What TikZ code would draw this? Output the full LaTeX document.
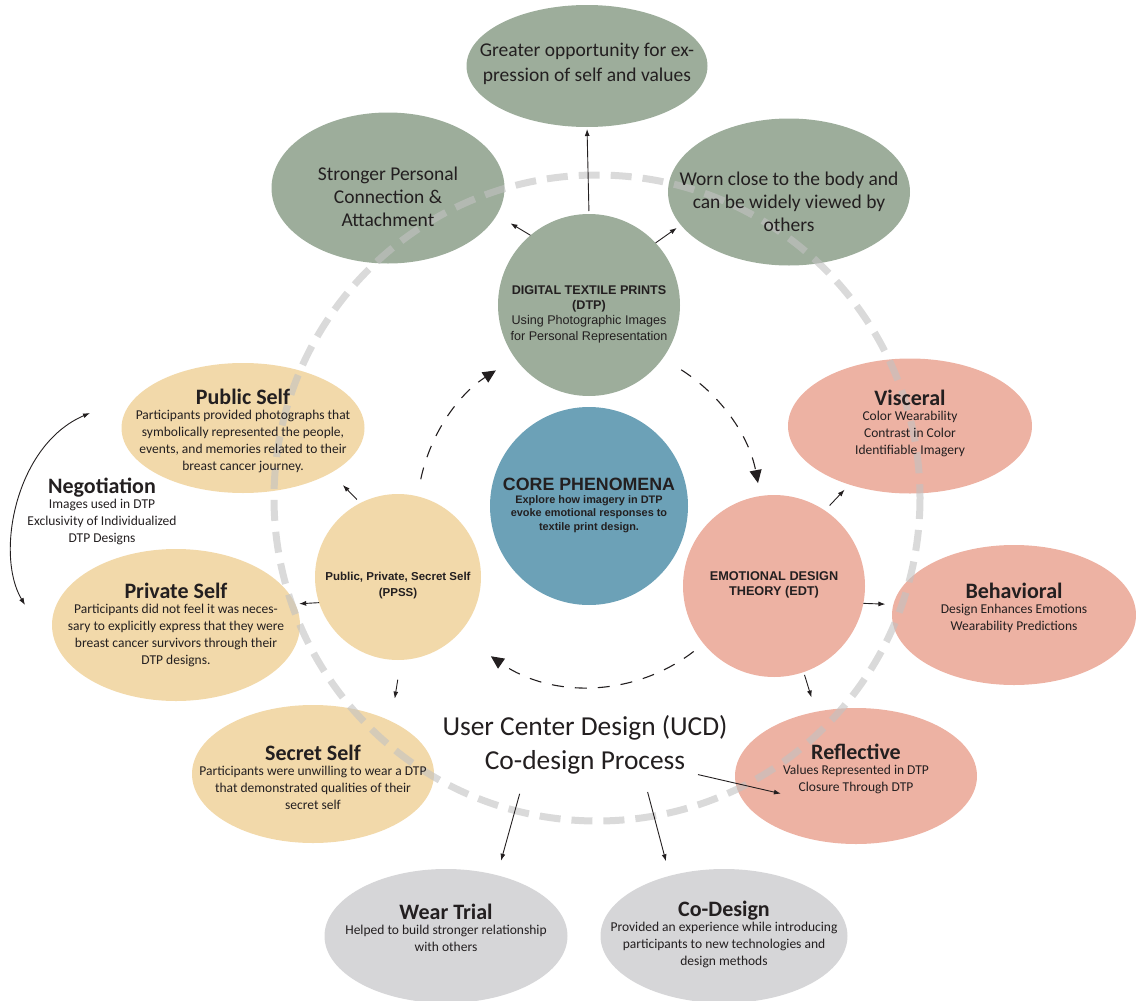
\documentclass[tikz,border=0pt]{standalone}
\usepackage{fontspec}
\setmainfont{Carlito}
\newfontfamily\arialfont{Liberation Sans}
\usetikzlibrary{shapes.geometric,arrows.meta}

\definecolor{sage}{HTML}{9DAD9B}
\definecolor{coreblue}{HTML}{6CA1B7}
\definecolor{sand}{HTML}{F2D9AA}
\definecolor{salmon}{HTML}{EDB2A3}
\definecolor{stone}{HTML}{D6D6D8}
\definecolor{ink}{HTML}{231F20}
\definecolor{ringgray}{HTML}{C2C2C2}

\tikzset{
    bubble/.style={ellipse, inner sep=0pt, outer sep=0pt},
    hub/.style={circle, inner sep=0pt, outer sep=0pt},
    txt/.style={align=center, text=ink, inner sep=0pt, font=\fontsize{13.5}{17}\selectfont},
    hubtxt/.style={align=center, text=ink, inner sep=0pt, font=\arialfont\fontsize{12.6}{15.3}\selectfont},
    arr/.style={->, draw=ink, line width=0.9pt},
    cycleflow/.style={-{Triangle[length=13pt,width=12pt]}, draw=ink, line width=1.1pt, dash pattern=on 12pt off 11pt},
    ring/.style={draw=ringgray, line width=7pt, dash pattern=on 21pt off 11pt, draw opacity=0.6},
}
\newcommand{\ttl}[1]{{\fontsize{22}{22}\selectfont\bfseries #1}}

\begin{document}
\begin{tikzpicture}[x=1pt, y=-1pt, >={Latex[length=7pt,width=5pt]}]
    \useasboundingbox (0,0) rectangle (1136,1001);

    % outcomes of the prints (top)
    \node[bubble, fill=sage, minimum width=241pt, minimum height=122pt] (greater) at (587,66) {};
    \node[bubble, fill=sage, minimum width=233pt, minimum height=151pt] (stronger) at (388,188) {};
    \node[bubble, fill=sage, minimum width=242pt, minimum height=147pt] (worn) at (789,192) {};

    % emotional design levels (right)
    \node[bubble, fill=salmon, minimum width=244pt, minimum height=135pt] (visceral) at (910,426) {};
    \node[bubble, fill=salmon, minimum width=244pt, minimum height=140pt] (behavioral) at (1014,615) {};
    \node[bubble, fill=salmon, minimum width=242pt, minimum height=136pt] (reflective) at (856,776) {};

    % public / private / secret self (left)
    \node[bubble, fill=sand, minimum width=243pt, minimum height=130pt] (public) at (243,428) {};
    \node[bubble, fill=sand, minimum width=248pt, minimum height=152pt] (private) at (176,625) {};
    \node[bubble, fill=sand, minimum width=242pt, minimum height=138pt] (secret) at (313,774) {};

    % co-design process (bottom)
    \node[bubble, fill=stone, minimum width=243pt, minimum height=134pt] (wear) at (446,936) {};
    \node[bubble, fill=stone, minimum width=247pt, minimum height=134pt] (codesign) at (724,936) {};

    % hubs
    \node[hub, fill=sage, minimum size=182pt] (dtp) at (589,305) {};
    \node[hub, fill=coreblue, minimum size=198pt] (core) at (589,506) {};
    \node[hub, fill=sand, minimum size=166pt] (ppss) at (398,577) {};
    \node[hub, fill=salmon, minimum size=182pt] (edt) at (774,586) {};

    % big dashed ring, over the fills but under the texts
    \draw[ring] (597,498) circle [radius=323];

    % texts
    \node[txt, font=\fontsize{19.5}{25}\selectfont] (greater-txt) at (587,64)
        {Greater opportunity for ex-\\pression of self and values};
    \node[txt, font=\fontsize{19.5}{23}\selectfont] (stronger-txt) at (388,197)
        {Stronger Personal\\Connection \&\\Attachment};
    \node[txt, font=\fontsize{19.5}{23}\selectfont] (worn-txt) at (789,202)
        {Worn close to the body and\\can be widely viewed by\\others};

    \node[txt] (visceral-txt) at (910,423)
        {\ttl{Visceral}\\[-2pt] Color Wearability\\Contrast in Color\\Identifiable Imagery};
    \node[txt] (behavioral-txt) at (1014,608)
        {\ttl{Behavioral}\\[-2pt] Design Enhances Emotions\\Wearability Predictions};
    \node[txt] (reflective-txt) at (856,769)
        {\ttl{Reflective}\\[-2pt] Values Represented in DTP\\Closure Through DTP};

    \node[txt] (public-txt) at (243,431)
        {\ttl{Public Self}\\[-2pt] Participants provided photographs that\\symbolically represented the people,\\events, and memories related to their\\breast cancer journey.};
    \node[txt] (private-txt) at (176,625)
        {\ttl{Private Self}\\[-2pt] Participants did not feel it was neces-\\sary to explicitly express that they were\\breast cancer survivors through their\\DTP designs.};
    \node[txt] (secret-txt) at (313,777)
        {\ttl{Secret Self}\\[-2pt] Participants were unwilling to wear a DTP\\that demonstrated qualities of their\\secret self};

    \node[txt] (wear-txt) at (446,928)
        {\ttl{Wear Trial}\\[-2pt] Helped to build stronger relationship\\with others};
    \node[txt] (codesign-txt) at (724,934)
        {\ttl{Co-Design}\\[-2pt] Provided an experience while introducing\\participants to new technologies and\\design methods};

    \node[txt] (negotiation) at (102,511)
        {\ttl{Negotiation}\\[-2pt] Images used in DTP\\Exclusivity of Individualized\\DTP Designs};

    \node[txt, font=\fontsize{27.4}{34}\selectfont] (ucd) at (585,745)
        {User Center Design (UCD)\\Co-design Process};

    \node[hubtxt] (dtp-txt) at (589,314)
        {\textbf{DIGITAL TEXTILE PRINTS}\\\textbf{(DTP)}\\Using Photographic Images\\for Personal Representation};
    \node[hubtxt, font=\arialfont\bfseries\fontsize{10.9}{13.3}\selectfont] (core-txt) at (589,505)
        {{\fontsize{17.8}{18}\selectfont CORE PHENOMENA}\\Explore how imagery in DTP\\evoke emotional responses to\\textile print design.};
    \node[hubtxt, font=\arialfont\bfseries\fontsize{11.5}{16}\selectfont] (ppss-txt) at (398,586)
        {Public, Private, Secret Self\\(PPSS)};
    \node[hubtxt, font=\arialfont\bfseries\fontsize{12.7}{15.5}\selectfont] (edt-txt) at (774,585)
        {EMOTIONAL DESIGN\\THEORY (EDT)};

    % short arrows out of the hubs
    \draw[arr, shorten <=3pt, shorten >=2pt] (dtp.north) -- (greater.south);
    \draw[arr, shorten >=16pt] (dtp.130) -- (stronger.-14);
    \draw[arr, shorten >=5pt] (dtp.43) -- (worn.197);

    \draw[arr, shorten <=5pt, shorten >=17pt] (ppss.117) -- (public.-27);
    \draw[arr, shorten >=4pt] (ppss.198) -- (private.10.5);
    \draw[arr, shorten <=20pt, shorten >=23pt] (ppss.272) -- (secret.34);

    \draw[arr, shorten <=7pt, shorten >=7pt] (edt.56) -- (visceral.224);
    \draw[arr, shorten >=8pt] (edt.-11) -- (behavioral.175);
    \draw[arr, shorten <=3pt, shorten >=15pt] (edt.-71) -- (reflective.122);

    % arrows out of the co-design process
    \draw[arr, shorten <=20pt, shorten >=15pt] ([xshift=-60pt]ucd.south) -- (wear.50);
    \draw[arr, shorten <=18pt, shorten >=15pt] ([xshift=58pt]ucd.south) -- (codesign.132);
    \draw[arr, shorten >=2pt] ([xshift=113pt]ucd.south) -- (reflective-txt.south west);

    % negotiation between the selves
    \coordinate (neg-top) at (90,413);
    \coordinate (neg-bot) at (25,605);
    \draw[arr, <->] (neg-top) .. controls (15,445) and (-5,555) .. (neg-bot);

    % dashed cycle around the core
    \coordinate (cyclec) at ([yshift=-9pt]core.center);
    \draw[cycleflow] (cyclec) ++(-57.6:172) arc [start angle=-57.6, end angle=-10.7, radius=172];
    \draw[cycleflow] (cyclec) ++(52.5:172) arc [start angle=52.5, end angle=124.8, radius=172];
    \draw[cycleflow] (cyclec) ++(192:172) arc [start angle=192, end angle=237.2, radius=172];
\end{tikzpicture}
\end{document}
